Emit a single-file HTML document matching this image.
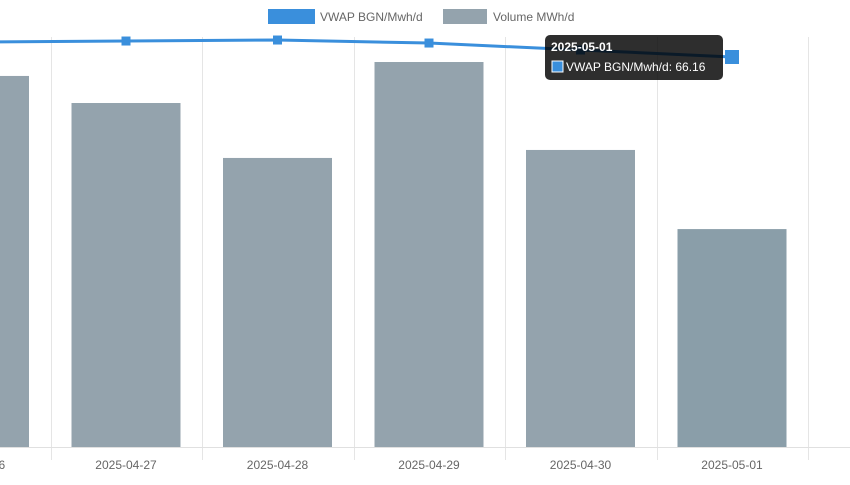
<!DOCTYPE html>
<html><head><meta charset="utf-8"><style>
body{margin:0;background:#fff;width:850px;height:480px;overflow:hidden;font-family:"Liberation Sans",sans-serif}
</style></head><body>
<svg id="chart" width="850" height="480" xmlns="http://www.w3.org/2000/svg">
<g id="legend">
<g><rect x="268" y="9" width="47" height="15" fill="#3a8fdc"/><text x="320" y="21" font-size="12" fill="#666">VWAP BGN/Mwh/d</text></g>
<g><rect x="443" y="9" width="44" height="15" fill="#94a3ad"/><text x="493" y="21" font-size="12" fill="#666">Volume MWh/d</text></g>
</g>
<g id="grid"></g>
<g id="bars"></g>
<g id="line"></g>
<g id="xaxis"></g>
<g id="tooltip">
<rect x="545" y="35" width="178" height="45" rx="5" fill="rgba(0,0,0,0.82)"/>
<text x="551" y="51" font-size="12" font-weight="bold" fill="#fff">2025-05-01</text>
<rect x="552" y="61" width="11" height="11" fill="#3a8fdc" stroke="#fff" stroke-width="1"/>
<text id="tt-value" x="566" y="71" font-size="12" fill="#fff">VWAP BGN/Mwh/d: 66.16</text>
</g>
</svg>
<script>
const categories=["2025-04-26","2025-04-27","2025-04-28","2025-04-29","2025-04-30","2025-05-01"];
const volume=[1810,1678,1410,1878,1449,1063];
const vwap=[68.7,68.87,69.04,68.53,67.35,66.16];
const NS="http://www.w3.org/2000/svg";
const step=151.5, x0=-25.5, bottom=447;
function xPos(i){return x0+i*step;}
function yVol(v){return bottom-v*410/2000;}
function yVwap(v){return bottom-v*390/66.16;}
function mk(tag,attrs,parent){const e=document.createElementNS(NS,tag);for(const k in attrs)e.setAttribute(k,attrs[k]);parent.appendChild(e);return e;}
const grid=document.getElementById('grid'),bars=document.getElementById('bars'),line=document.getElementById('line'),xa=document.getElementById('xaxis');
for(let i=0;i<=categories.length;i++){
  const gx=Math.round(xPos(i)-step/2+0.5)+0.5;
  const l=mk('line',{x1:gx,x2:gx,y1:37,y2:460,stroke:'#e5e5e5'},grid);
  
  
}
const ax=mk('line',{x1:0,x2:850,y1:bottom+0.5,y2:bottom+0.5,stroke:'#e0e0e0'},xa);


categories.forEach((c,i)=>{
  const cx=xPos(i);
  const r=mk('rect',{x:cx-54.5,y:yVol(volume[i]),width:109,height:bottom-yVol(volume[i]),fill:i===5?'#8a9ea9':'#94a3ad'},bars);
  
  
  const t=mk('text',{x:cx,y:469,'font-size':12,fill:'#666','text-anchor':'middle'},xa);
  t.textContent=c;
  
  
});
const pts=vwap.map((v,i)=>xPos(i)+','+yVwap(v)).join(' ');
const pl=mk('polyline',{points:pts,fill:'none',stroke:'#3a8fdc','stroke-width':3},line);


vwap.forEach((v,i)=>{
  const s=i===5?14:9;
  const p=mk('rect',{x:xPos(i)-s/2,y:yVwap(v)-s/2,width:s,height:s,fill:'#3a8fdc'},line);
  
  
});
document.getElementById('chart').appendChild(document.getElementById('tooltip'));
</script>
</body></html>
